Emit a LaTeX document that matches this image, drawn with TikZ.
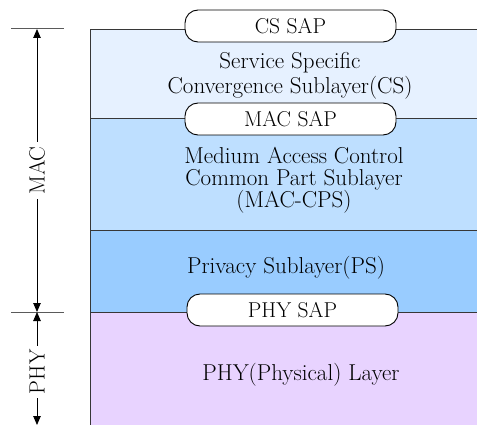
\documentclass[tikz,border=0pt]{standalone}
\usepackage{fontspec}
\usetikzlibrary{arrows.meta}

\definecolor{csfill}{RGB}{230,241,255}
\definecolor{macfill}{RGB}{190,223,255}
\definecolor{psfill}{RGB}{153,204,255}
\definecolor{phyfill}{RGB}{232,211,255}
\definecolor{edgegray}{RGB}{55,55,55}
\definecolor{tickgray}{RGB}{90,90,90}

\begin{document}
\begin{tikzpicture}[x=1pt,y=-1pt,
  layer/.style={draw=edgegray, line width=0.9pt},
  sap/.style={draw=black, fill=white, line width=0.9pt, rounded corners=13pt,
    minimum width=211pt, minimum height=32pt, inner sep=0pt,
    font=\fontsize{21.5}{24}\selectfont},
  txt/.style={inner sep=0pt, align=center},
  dimline/.style={draw=black, line width=0.8pt,
    {Triangle[length=9pt,width=7.5pt]}-{Triangle[length=9pt,width=7.5pt]}},
  dimlabel/.style={fill=white, rotate=90, inner sep=4pt,
    font=\fontsize{22}{24}\selectfont},
  tickline/.style={draw=tickgray, line width=1pt},
]
\useasboundingbox (0,0) rectangle (477,425);
\clip (0,0) rectangle (477,425);

% protocol layers, stacked top to bottom
\filldraw[layer, fill=csfill]  (90,29)  rectangle (500,118);
\filldraw[layer, fill=macfill] (90,118) rectangle (500,230);
\filldraw[layer, fill=psfill]  (90,230) rectangle (500,312);
\filldraw[layer, fill=phyfill] (90,312) rectangle (500,440);

% layer names
\node[txt, font=\fontsize{23}{25}\selectfont] (cs) at (290,75.5)
  {Service Specific\\Convergence Sublayer(CS)};
\node[txt, font=\fontsize{23}{22}\selectfont] (cps) at (294,180)
  {Medium Access Control\\Common Part Sublayer\\(MAC-CPS)};
\node[txt, anchor=base, font=\fontsize{23}{25}\selectfont] (ps) at (286,273)
  {Privacy Sublayer(PS)};
\node[txt, anchor=base, font=\fontsize{23}{25}\selectfont] (phy) at (301,380)
  {PHY(Physical) Layer};

% service access points on the layer boundaries
\node[sap] (cssap)  at (290.5,26)  {CS SAP};
\node[sap] (macsap) at (290.5,119) {MAC SAP};
\node[sap] (physap) at (292.5,310) {PHY SAP};

% dimension marks on the left
\coordinate (topL) at (11,29);   \coordinate (topR) at (64,29);
\coordinate (midL) at (11,312);  \coordinate (midR) at (64,312);
\draw[tickline] (topL) -- (topR);
\draw[tickline] (midL) -- (midR);

\coordinate (macA) at (37,29);
\coordinate (macB) at (37,312);
\coordinate (phyA) at (37,312);
\coordinate (phyB) at (37,425);
\draw[dimline] (macA) -- node[dimlabel] (maclbl) {MAC} (macB);
\draw[dimline] (phyA) -- node[dimlabel, pos=0.53] (phylbl) {PHY} (phyB);
\end{tikzpicture}
\end{document}
